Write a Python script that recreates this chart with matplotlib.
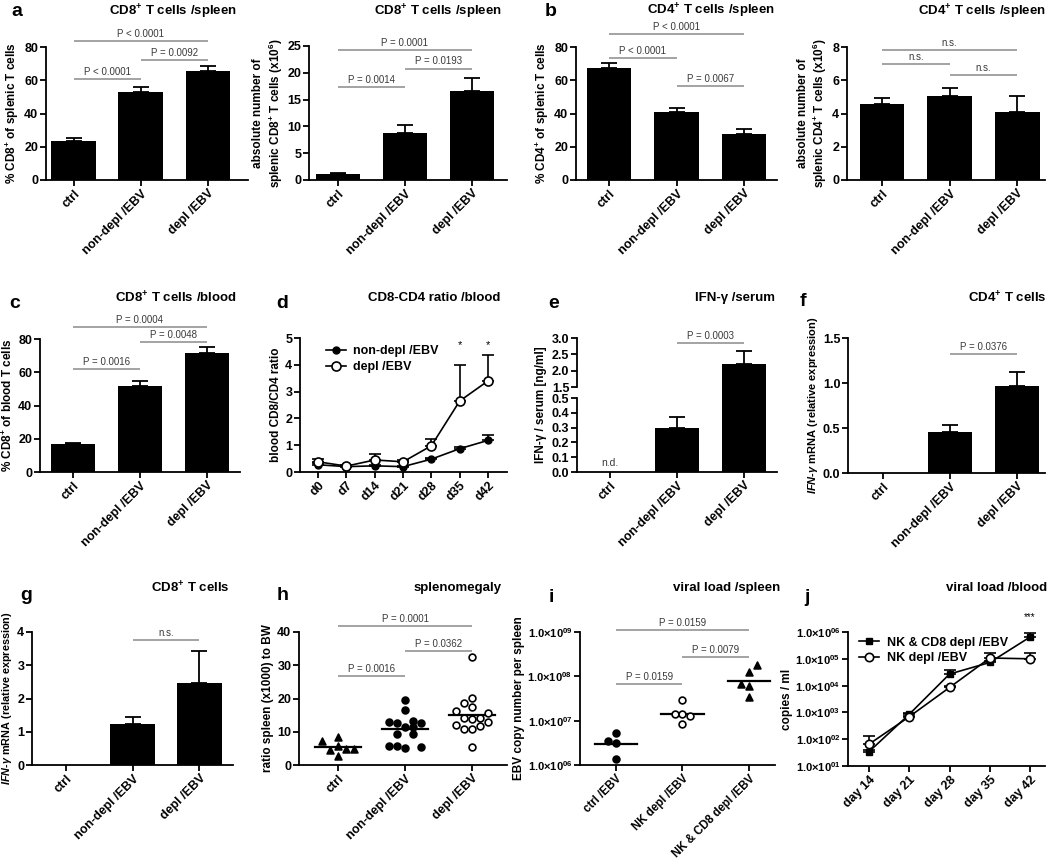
import numpy as np
import matplotlib
matplotlib.use("Agg")
import matplotlib.pyplot as plt
from matplotlib.lines import Line2D
from matplotlib.ticker import NullLocator

plt.rcParams["font.family"] = ["Liberation Sans", "DejaVu Sans"]
plt.rcParams["font.weight"] = "bold"
plt.rcParams["axes.labelweight"] = "bold"
plt.rcParams["mathtext.fontset"] = "custom"
plt.rcParams["mathtext.rm"] = "Liberation Sans:bold"
plt.rcParams["mathtext.it"] = "Liberation Sans:italic:bold"
plt.rcParams["mathtext.bf"] = "Liberation Sans:bold"

# ---------------------------------------------------------------
# data
# ---------------------------------------------------------------
groups = ["ctrl", "non-depl /EBV", "depl /EBV"]

# a  CD8+ % spleen
a_mean = [23.2, 52.8, 65.5]
a_sem = [2.0, 3.0, 2.8]
a_sig = [(0, 2, 83.5, "P < 0.0001"), (1, 2, 72.0, "P = 0.0092"), (0, 1, 60.5, "P < 0.0001")]

# a  CD8+ absolute spleen
a2_mean = [1.2, 8.8, 16.6]
a2_sem = [0.1, 1.4, 2.5]
a2_sig = [(0, 2, 24.3, "P = 0.0001"), (1, 2, 20.8, "P = 0.0193"), (0, 1, 17.3, "P = 0.0014")]

# b  CD4+ % spleen
b_mean = [67.5, 40.8, 27.8]
b_sem = [3.0, 2.6, 2.8]
b_sig = [(0, 2, 88.0, "P < 0.0001"), (0, 1, 73.4, "P < 0.0001"), (1, 2, 56.4, "P = 0.0067")]

# b  CD4+ absolute spleen
b2_mean = [4.55, 5.03, 4.08]
b2_sem = [0.38, 0.52, 0.95]
b2_sig = [(0, 2, 7.8, "n.s."), (0, 1, 7.0, "n.s."), (1, 2, 6.3, "n.s.")]

# c  CD8+ % blood
c_mean = [16.8, 51.8, 71.8]
c_sem = [0.6, 3.2, 3.6]
c_sig = [(0, 2, 87.4, "P = 0.0004"), (1, 2, 78.4, "P = 0.0048"), (0, 1, 61.8, "P = 0.0016")]

# d  CD8/CD4 ratio over time
d_days = ["d0", "d7", "d14", "d21", "d28", "d35", "d42"]
d_nondepl = [0.27, 0.20, 0.23, 0.20, 0.48, 0.87, 1.18]
d_nondepl_err = [0.05, 0.03, 0.03, 0.03, 0.04, 0.05, 0.20]
d_depl = [0.38, 0.22, 0.45, 0.38, 0.98, 2.65, 3.40]
d_depl_err = [0.12, 0.04, 0.22, 0.08, 0.25, 1.35, 0.95]
d_star_days = [5, 6]

# e  IFN-g serum (broken axis)
e_mean = [0.0, 0.30, 2.20]
e_sem = [0.0, 0.075, 0.40]
e_sig = [(1, 2, 2.84, "P = 0.0003")]

# f  IFN-g mRNA CD4+
f_mean = [0.0, 0.46, 0.97]
f_sem = [0.0, 0.07, 0.15]
f_sig = [(1, 2, 1.325, "P = 0.0376")]

# g  IFN-g mRNA CD8+
g_mean = [0.0, 1.22, 2.48]
g_sem = [0.0, 0.23, 0.94]
g_sig = [(1, 2, 3.75, "n.s.")]

# h  splenomegaly (individual mice, slot = horizontal spread position)
h_ctrl = [7.3, 8.4, 4.6, 5.6, 4.7, 4.7, 2.7]
h_ctrl_slot = [-2, 0, -1, 0, 1, 2, 0]
h_nondepl = [19.5, 16.6, 13.0, 12.5, 13.2, 12.7, 11.5, 11.5, 9.3, 9.3, 5.8, 5.8, 5.2, 5.5]
h_nondepl_slot = [0, 0, -2, -1, 1, 2, 0, 1, -1, 1, -2, -1, 0, 2]
h_depl = [32.5, 20.2, 18.5, 17.5, 16.2, 15.7, 14.2, 14.0, 13.8, 13.0, 12.0, 11.8, 10.8, 10.8, 5.3]
h_depl_slot = [0, 0, -1, 0, -2, 2, -1, 1, 0, 2, -2, 1, -1, 0, 0]
h_sig = [(0, 2, 41.8, "P = 0.0001"), (1, 2, 34.2, "P = 0.0362"), (0, 1, 26.8, "P = 0.0016")]

# i  viral load spleen
i_groups = ["ctrl /EBV", "NK depl /EBV", "NK & CD8 depl /EBV"]
i_ctrl = [3.5e6, 5.2e6, 3.2e6, 1.4e6]
i_ctrl_slot = [-1, 0, 0, 0]
i_nk = [2.9e7, 1.4e7, 1.4e7, 1.27e7, 8.4e6]
i_nk_slot = [0, -1, 0, 1, 0]
i_nkcd8 = [1.78e8, 1.26e8, 6.6e7, 6.1e7, 3.5e7]
i_nkcd8_slot = [1, 0, -1, 0, 0]
i_center = [3.0e6, 1.4e7, 7.9e7]
i_sig = [(0, 2, 1.1e9, "P = 0.0159"), (1, 2, 2.75e8, "P = 0.0079"), (0, 1, 6.6e7, "P = 0.0159")]

# j  viral load blood
j_days = ["day 14", "day 21", "day 28", "day 35", "day 42"]
j_nkcd8 = [34, 850, 2.7e4, 7.3e4, 6.5e5]
j_nkcd8_top = [38, 950, 3.9e4, 8.0e4, 9.1e5]
j_nk = [65, 690, 8.5e3, 1.07e5, 1.0e5]
j_nk_top = [130, 750, 9.5e3, 1.62e5, 1.62e5]

# ---------------------------------------------------------------
W, H = 1050, 861
fig = plt.figure(figsize=(W / 100, H / 100), dpi=100)
LW = 1.3
GREY = "#8a8a8a"


def axes_px(x0, y0, x1, y1):
    return fig.add_axes([x0 / W, 1 - y1 / H, (x1 - x0) / W, (y1 - y0) / H])


def style(ax):
    ax.spines["top"].set_visible(False)
    ax.spines["right"].set_visible(False)
    ax.spines["left"].set_linewidth(LW)
    ax.spines["bottom"].set_linewidth(LW)
    ax.tick_params(width=LW, length=4, labelsize=9, pad=1.5)
    ax.patch.set_visible(False)


def cat_xaxis(ax, labels, xlim, size=9):
    ax.set_xlim(*xlim)
    ax.set_xticks(range(len(labels)))
    ax.set_xticklabels(labels, rotation=45, ha="right", rotation_mode="anchor", fontsize=size)


def bars(ax, means, sems, which=None):
    x = np.arange(len(means))
    ax.bar(x, means, width=0.66, color="black", linewidth=0, zorder=2)
    keep = [k for k in x if sems[k] > 0 and (which is None or k in which)]
    ax.errorbar([x[k] for k in keep], [means[k] for k in keep],
                yerr=[[0] * len(keep), [sems[k] for k in keep]],
                fmt="none", ecolor="black", elinewidth=LW, capsize=6,
                capthick=LW, zorder=3)


def sig(ax, i, j, y, txt):
    ax.plot([i, j], [y, y], color=GREY, lw=1.1, clip_on=False, solid_capstyle="butt")
    ax.annotate(txt, ((i + j) / 2, y), xytext=(0, 1.5), textcoords="offset points",
                ha="center", va="bottom", fontsize=7, fontweight="normal",
                color="#3a3a3a", annotation_clip=False)


def title(xr, y, txt):
    fig.text(xr / W, 1 - y / H, txt, ha="right", va="center", fontsize=9.5, fontweight="bold")


def letter(x, y, txt):
    fig.text(x / W, 1 - y / H, txt, ha="left", va="center", fontsize=14, fontweight="bold")


def bar_panel(box, means, sems, sigs, ylim, yticks, xlim, ylabel, lsize=8.5):
    ax = axes_px(*box)
    style(ax)
    bars(ax, means, sems)
    ax.set_ylim(*ylim)
    ax.set_yticks(yticks)
    cat_xaxis(ax, groups, xlim)
    ax.set_ylabel(ylabel, fontsize=lsize, labelpad=2)
    for s in sigs:
        sig(ax, *s)
    return ax


# ---------------- row 1 ----------------
letter(11, 12, "a")
title(237, 12, "CD8$^{+}$ T cells /spleen")
bar_panel((46, 47, 248, 180), a_mean, a_sem, a_sig, (0, 80), [0, 20, 40, 60, 80],
          (-0.41, 2.6), "% CD8$^{+}$ of splenic T cells")

title(502, 12, "CD8$^{+}$ T cells /spleen")
bar_panel((309, 46, 507, 180), a2_mean, a2_sem, a2_sig, (0, 25), [0, 5, 10, 15, 20, 25],
          (-0.43, 2.52), "absolute number of\nsplenic CD8$^{+}$ T cells (x10$^{6}$)")

letter(545, 12, "b")
title(775, 11, "CD4$^{+}$ T cells /spleen")
bar_panel((576, 47, 777, 180), b_mean, b_sem, b_sig, (0, 80), [0, 20, 40, 60, 80],
          (-0.49, 2.49), "% CD4$^{+}$ of splenic T cells")

title(1046, 12, "CD4$^{+}$ T cells /spleen")
bar_panel((847, 47, 1045, 180), b2_mean, b2_sem, b2_sig, (0, 8), [0, 2, 4, 6, 8],
          (-0.52, 2.41), "absolute number of\nsplenic CD4$^{+}$ T cells (x10$^{6}$)")

# ---------------- row 2 ----------------
letter(9, 303, "c")
title(237, 298, "CD8$^{+}$ T cells /blood")
bar_panel((40, 339, 240, 472), c_mean, c_sem, c_sig, (0, 80), [0, 20, 40, 60, 80],
          (-0.49, 2.49), "% CD8$^{+}$ of blood T cells")

letter(276, 303, "d")
title(500, 298, "CD8-CD4 ratio /blood")
ax = axes_px(300, 338, 507, 472)
style(ax)
xd = np.arange(len(d_days))
ax.errorbar(xd, d_nondepl, yerr=[np.zeros(len(xd)), d_nondepl_err], color="black",
            marker="o", ms=5, mfc="black", lw=1.2, elinewidth=1.2, capsize=4, capthick=1.2,
            zorder=3)
ax.errorbar(xd, d_depl, yerr=[np.zeros(len(xd)), d_depl_err], color="black",
            marker="o", ms=6.5, mfc="white", mew=1.2, lw=1.2, elinewidth=1.2, capsize=4,
            capthick=1.2, zorder=4)
for k in d_star_days:
    ax.text(k, 4.72, "*", ha="center", va="center", fontsize=8, fontweight="normal")
ax.set_ylim(0, 5)
ax.set_yticks(range(6))
cat_xaxis(ax, d_days, (-0.64, 6.67))
ax.set_ylabel("blood CD8/CD4 ratio", fontsize=8.5, labelpad=2)
handles = [Line2D([], [], color="black", lw=1.2, marker="o", ms=5, mfc="black"),
           Line2D([], [], color="black", lw=1.2, marker="o", ms=6.5, mfc="white", mew=1.2)]
ax.legend(handles, ["non-depl /EBV", "depl /EBV"], loc="upper left", bbox_to_anchor=(0.07, 1.03),
          frameon=False, fontsize=9, handlelength=1.6, handletextpad=0.6, labelspacing=0.3)

letter(548, 303, "e")
title(775, 298, "IFN-γ /serum")
ax_t = axes_px(577, 338, 777, 387)
ax_b = axes_px(577, 398, 777, 472)
for a_ in (ax_t, ax_b):
    style(a_)
# bottom part, plus the top part drawn unclipped so the tall bar runs through the break
ax_b.bar(np.arange(3), e_mean, width=0.66, color="black", linewidth=0, zorder=2)
ax_t.bar([2], [e_mean[2]], width=0.66, color="black", linewidth=0, zorder=2, clip_on=False)
bars(ax_b, e_mean, e_sem, which=[1])
bars(ax_t, e_mean, e_sem, which=[2])
ax_b.set_ylim(0, 0.5)
ax_b.set_yticks([0, 0.1, 0.2, 0.3, 0.4, 0.5])
ax_b.set_yticklabels(["0.0", "0.1", "0.2", "0.3", "0.4", "0.5"])
ax_t.set_ylim(1.5, 3.0)
ax_t.set_yticks([1.5, 2.0, 2.5, 3.0])
ax_t.set_yticklabels(["1.5", "2.0", "2.5", "3.0"])
ax_t.spines["bottom"].set_visible(False)
ax_t.set_xlim(-0.5, 2.5)
ax_t.set_xticks([])
cat_xaxis(ax_b, groups, (-0.5, 2.5))
ax_b.text(0, 0.025, "n.d.", ha="center", va="bottom", fontsize=7.5, fontweight="normal",
          color="#3a3a3a")
for s in e_sig:
    sig(ax_t, *s)
fig.text(541 / W, 1 - 405 / H, "IFN-γ / serum [ng/ml]", rotation=90, ha="center",
         va="center", fontsize=8.5, fontweight="bold")

letter(800, 302, "f")
title(1047, 298, "CD4$^{+}$ T cells")
bar_panel((848, 338, 1045, 473), f_mean, f_sem, f_sig, (0, 1.5), [0, 0.5, 1.0, 1.5],
          (-0.52, 2.42), "$IFN$-$\\gamma$ mRNA (relative expression)", lsize=8).set_yticklabels(
    ["0.0", "0.5", "1.0", "1.5"])

# ---------------- row 3 ----------------
letter(20, 596, "g")
title(230, 588, "CD8$^{+}$ T cells")
bar_panel((32, 632, 233, 765), g_mean, g_sem, g_sig, (0, 4), [0, 1, 2, 3, 4],
          (-0.5, 2.5), "$IFN$-$\\gamma$ mRNA (relative expression)", lsize=7.8)

letter(277, 596, "h")
title(502, 588, "splenomegaly")
ax = axes_px(299, 632, 507, 765)
style(ax)
step = 0.12
for k, (vals, slots, mk, fc) in enumerate([(h_ctrl, h_ctrl_slot, "^", "black"),
                                            (h_nondepl, h_nondepl_slot, "o", "black"),
                                            (h_depl, h_depl_slot, "o", "white")]):
    ax.scatter(k + np.array(slots) * step, vals, marker=mk, s=24, facecolor=fc,
               edgecolor="black", linewidth=1.2, zorder=3, clip_on=False)
    m = np.mean(vals)
    ax.plot([k - 0.34, k + 0.34], [m, m], color="black", lw=1.6, zorder=2)
ax.set_ylim(0, 40)
ax.set_yticks([0, 10, 20, 30, 40])
cat_xaxis(ax, groups, (-0.58, 2.52))
ax.set_ylabel("ratio spleen (x1000) to BW", fontsize=8.5, labelpad=2)
for s in h_sig:
    sig(ax, *s)

letter(549, 597, "i")
title(780, 588, "viral load /spleen")
ax = axes_px(580, 632, 775, 765)
style(ax)
ax.set_yscale("log")
for k, (vals, slots, mk, fc) in enumerate([(i_ctrl, i_ctrl_slot, "o", "black"),
                                            (i_nk, i_nk_slot, "o", "white"),
                                            (i_nkcd8, i_nkcd8_slot, "^", "black")]):
    ax.scatter(k + np.array(slots) * step, vals, marker=mk, s=24, facecolor=fc,
               edgecolor="black", linewidth=1.2, zorder=3)
    ax.plot([k - 0.32, k + 0.32], [i_center[k], i_center[k]], color="black", lw=1.6, zorder=2)
ax.set_ylim(1e6, 1e9)
ax.set_yticks([1e6, 1e7, 1e8, 1e9])
ax.set_yticklabels(["1.0×10$^{06}$", "1.0×10$^{07}$", "1.0×10$^{08}$", "1.0×10$^{09}$"], fontsize=8)
ax.yaxis.set_minor_locator(NullLocator())
cat_xaxis(ax, i_groups, (-0.54, 2.39), size=8.3)
ax.set_ylabel("EBV copy number per spleen", fontsize=8.5, labelpad=2)
for s in i_sig:
    sig(ax, *s)

letter(804, 597, "j")
title(1047, 588, "viral load /blood")
ax = axes_px(848, 632, 1045, 766)
style(ax)
ax.set_yscale("log")
xj = np.arange(len(j_days))
ax.errorbar(xj, j_nkcd8, yerr=[np.zeros(len(xj)), np.array(j_nkcd8_top) - np.array(j_nkcd8)],
            color="black", marker="s", ms=5, mfc="black", lw=1.2, elinewidth=1.2, capsize=4,
            capthick=1.2, zorder=3)
ax.errorbar(xj, j_nk, yerr=[np.zeros(len(xj)), np.array(j_nk_top) - np.array(j_nk)],
            color="black", marker="o", ms=6, mfc="white", mew=1.2, lw=1.2, elinewidth=1.2,
            capsize=4, capthick=1.2, zorder=4)
ax.text(4, 10 ** 6.56, "***", ha="center", va="center", fontsize=7, fontweight="normal",
        clip_on=False)
ax.set_ylim(10, 1e6)
ax.set_yticks([1e1, 1e2, 1e3, 1e4, 1e5, 1e6])
ax.set_yticklabels(["1.0×10$^{01}$", "1.0×10$^{02}$", "1.0×10$^{03}$", "1.0×10$^{04}$",
                    "1.0×10$^{05}$", "1.0×10$^{06}$"], fontsize=8)
ax.yaxis.set_minor_locator(NullLocator())
cat_xaxis(ax, j_days, (-0.52, 4.37))
ax.set_ylabel("copies / ml", fontsize=8.5, labelpad=2)
handles = [Line2D([], [], color="black", lw=1.2, marker="s", ms=5, mfc="black"),
           Line2D([], [], color="black", lw=1.2, marker="o", ms=6, mfc="white", mew=1.2)]
ax.legend(handles, ["NK & CD8 depl /EBV", "NK depl /EBV"], loc="upper left",
          bbox_to_anchor=(0.0, 1.05), frameon=False, fontsize=9, handlelength=1.6,
          handletextpad=0.6, labelspacing=0.3)

fig.savefig("out.png", dpi=100)
